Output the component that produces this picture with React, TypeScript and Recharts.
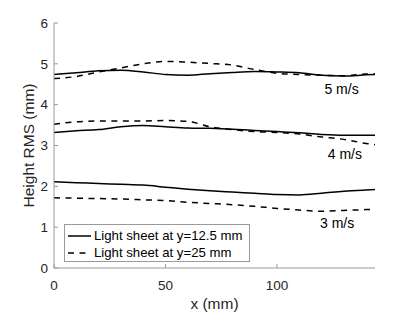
import { Label, Legend, Line, LineChart, ReferenceDot, XAxis, YAxis } from "recharts";

// x position along the sheet (mm)
const X_MM = [0, 10, 20, 30, 40, 50, 60, 70, 80, 90, 100, 110, 120, 130, 140, 144];

// light sheet at y=12.5 mm (solid)
const SOLID_5 = [4.74, 4.78, 4.83, 4.84, 4.8, 4.74, 4.72, 4.76, 4.79, 4.81, 4.8, 4.78, 4.72, 4.7, 4.73, 4.74];
const SOLID_4 = [3.32, 3.36, 3.39, 3.46, 3.49, 3.46, 3.43, 3.42, 3.4, 3.37, 3.34, 3.31, 3.27, 3.25, 3.25, 3.25];
const SOLID_3 = [2.11, 2.09, 2.07, 2.05, 2.03, 1.98, 1.93, 1.89, 1.86, 1.83, 1.8, 1.79, 1.83, 1.88, 1.91, 1.92];

// light sheet at y=25 mm (dashed)
const DASH_5 = [4.64, 4.69, 4.8, 4.9, 5.0, 5.06, 5.04, 5.01, 4.97, 4.86, 4.77, 4.74, 4.72, 4.71, 4.75, 4.76];
const DASH_4 = [3.52, 3.58, 3.6, 3.6, 3.6, 3.61, 3.59, 3.46, 3.39, 3.34, 3.32, 3.28, 3.21, 3.15, 3.05, 3.02];
const DASH_3 = [1.72, 1.71, 1.7, 1.69, 1.67, 1.65, 1.61, 1.58, 1.55, 1.51, 1.46, 1.42, 1.39, 1.41, 1.43, 1.44];

const X_TICKS = [0, 50, 100];
const Y_TICKS = [0, 1, 2, 3, 4, 5, 6];

const SPEED_LABELS = [
  { text: "5 m/s", x: 129, y: 4.38 },
  { text: "4 m/s", x: 130.5, y: 2.78 },
  { text: "3 m/s", x: 127, y: 1.11 },
];

const LEGEND_ITEMS = [
  { name: "Light sheet at y=12.5 mm", dash: undefined as string | undefined },
  { name: "Light sheet at y=25 mm", dash: "6 5.5" },
];

const SERIES = [
  { key: "s5", values: SOLID_5, dash: undefined as string | undefined },
  { key: "d5", values: DASH_5, dash: "6 5.5" },
  { key: "s4", values: SOLID_4, dash: undefined },
  { key: "d4", values: DASH_4, dash: "6 5.5" },
  { key: "s3", values: SOLID_3, dash: undefined },
  { key: "d3", values: DASH_3, dash: "6 5.5" },
];

const data = X_MM.map((x, i) => {
  const row: Record<string, number> = { x };
  for (const s of SERIES) row[s.key] = s.values[i];
  return row;
});

const FONT = "'Liberation Sans', Arial, Helvetica, sans-serif";
const TEXT = "#262626";
const BOX = "#9a9a9a";
const TICK = { fill: TEXT, fontSize: 13.5, fontFamily: FONT };
const AXIS_LABEL = { fill: TEXT, fontSize: 15.5, fontFamily: FONT };

function LegendBox() {
  return (
    <div
      style={{
        boxSizing: "border-box",
        width: 186,
        height: 38,
        border: `1px solid ${BOX}`,
        background: "#fff",
        padding: "2px 0 0 3px",
        fontFamily: FONT,
        fontSize: 13.2,
        color: "#000",
      }}
    >
      {LEGEND_ITEMS.map((it) => (
        <div key={it.name} style={{ display: "flex", alignItems: "center", height: 17 }}>
          <svg width={23} height={4} style={{ marginRight: 3 }}>
            <line x1={0} y1={2} x2={23} y2={2} stroke="#000" strokeWidth={1.5} strokeDasharray={it.dash} />
          </svg>
          <span>{it.name}</span>
        </div>
      ))}
    </div>
  );
}

export default function App() {
  return (
    <div>
      <style>{"body{margin:0}"}</style>
      <LineChart width={415} height={312} data={data} margin={{ top: 23, right: 40, bottom: 0, left: 0 }}>
        <XAxis
          dataKey="x"
          type="number"
          domain={[0, 144]}
          ticks={X_TICKS}
          height={44}
          tickSize={-4}
          tickMargin={16}
          stroke={BOX}
          tick={TICK}
          allowDataOverflow
        >
          <Label value="x (mm)" position="insideBottom" offset={3.5} style={AXIS_LABEL} />
        </XAxis>
        <XAxis
          xAxisId="top"
          orientation="top"
          type="number"
          domain={[0, 144]}
          ticks={X_TICKS}
          height={0}
          tickSize={-4}
          tick={false}
          stroke={BOX}
          allowDataOverflow
        />
        <YAxis
          type="number"
          domain={[0, 6]}
          ticks={Y_TICKS}
          width={54}
          tickSize={-4}
          tickMargin={10}
          stroke={BOX}
          tick={TICK}
          allowDataOverflow
        >
          <Label value="Height RMS (mm)" angle={-90} position="center" dx={1.5} style={AXIS_LABEL} />
        </YAxis>
        <YAxis
          yAxisId="right"
          orientation="right"
          type="number"
          domain={[0, 6]}
          ticks={Y_TICKS}
          width={0}
          tickSize={-4}
          tick={false}
          stroke={BOX}
          allowDataOverflow
        />
        {SERIES.map((s) => (
          <Line
            key={s.key}
            dataKey={s.key}
            type="monotone"
            stroke="#000"
            strokeWidth={1.5}
            strokeDasharray={s.dash}
            dot={false}
            activeDot={false}
            isAnimationActive={false}
          />
        ))}
        {SPEED_LABELS.map((l) => (
          <ReferenceDot
            key={l.text}
            x={l.x}
            y={l.y}
            r={0}
            fill="none"
            stroke="none"
            ifOverflow="visible"
            label={{ value: l.text, position: "center", fill: "#000", fontSize: 14, fontFamily: FONT }}
          />
        ))}
        <Legend
          layout="vertical"
          align="center"
          verticalAlign="middle"
          content={() => <LegendBox />}
          wrapperStyle={{ left: 64, top: 224, width: 186, height: 38 }}
        />
      </LineChart>
    </div>
  );
}
